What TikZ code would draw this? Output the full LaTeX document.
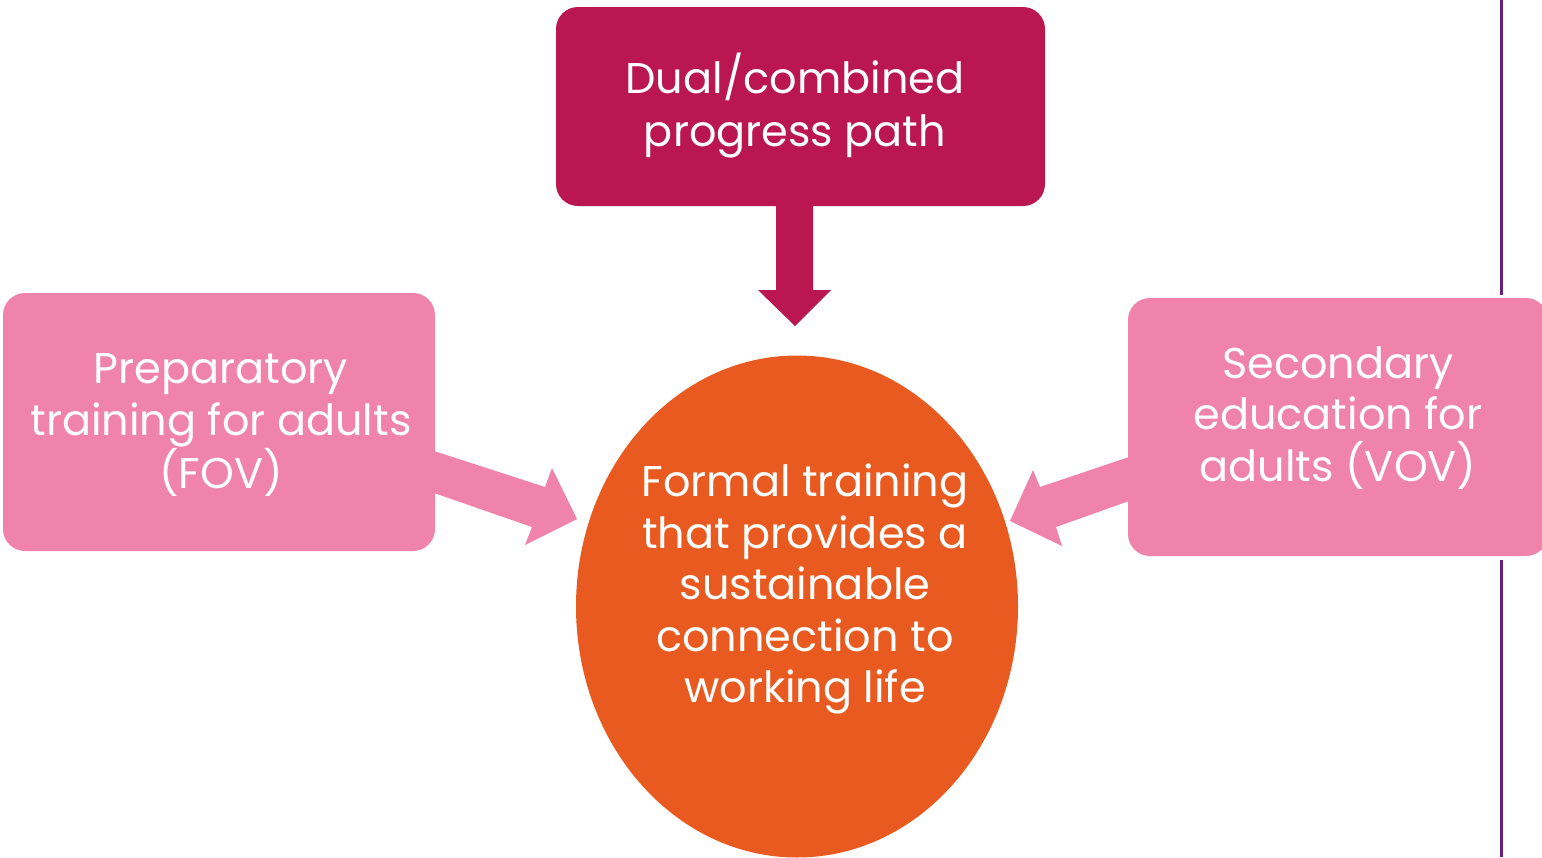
\documentclass[tikz,border=0pt]{standalone}
\usepackage{fontspec}
\setmainfont{Poppins}
\usetikzlibrary{shapes.geometric}
\definecolor{crim}{HTML}{BA1650}
\definecolor{pinkc}{HTML}{F083A9}
\definecolor{orng}{HTML}{E95A20}
\definecolor{purp}{HTML}{6B1F7C}
\tikzset{
  box/.style={fill=#1, draw=none, rounded corners=22pt, inner sep=0pt},
  oval/.style={ellipse, fill=orng, draw=none, inner sep=0pt, minimum width=442pt, minimum height=502pt},
  lbl/.style={text=white, align=center, inner sep=0pt, font=\fontsize{43}{51.5}\selectfont}
}
\begin{document}
\begin{tikzpicture}[x=1pt,y=-1pt]
\useasboundingbox (0,0) rectangle (1542,857);
% purple divider
\draw[purp, line width=3pt] (1501,0) -- (1501,295);
\draw[purp, line width=3pt] (1501,560) -- (1501,857);
% boxes
\node[box=crim, minimum width=489pt, minimum height=199pt] (top) at (800.5,106.5) {};
\node[lbl, font=\fontsize{43}{53}\selectfont] (toptext) at (795,106) {Dual/combined\\progress path};
\node[box=pinkc, minimum width=432pt, minimum height=258pt] (left) at (219,422) {};
\node[lbl] (lefttext) at (221,425) {Preparatory\\training for adults\\(FOV)};
\node[box=pinkc, minimum width=420pt, minimum height=258pt] (right) at (1338,427) {};
\node[lbl] (righttext) at (1338,418) {Secondary\\education for\\adults (VOV)};
\node[oval] (goal) at (797,606.5) {};
\node[lbl] (goaltext) at (805,589) {Formal training\\that provides a\\sustainable\\connection to\\working life};
% block arrows
\coordinate (ltip) at (577,519);
\coordinate (rtip) at (1010,521);
\coordinate (dtip) at (795,326);
\fill[crim] (776,206) -- (776,290) -- (758,290) -- (dtip) -- (831,290) -- (813,290) -- (813,206) -- cycle;
\fill[pinkc] (434,451) -- (545,487) -- (552,468) -- (ltip) -- (525,545) -- (532,527) -- (434,493) -- cycle;
\fill[pinkc] (1129,457) -- (1040,487) -- (1033,470) -- (rtip) -- (1062,546) -- (1056,527) -- (1129,501) -- cycle;
\end{tikzpicture}
\end{document}
